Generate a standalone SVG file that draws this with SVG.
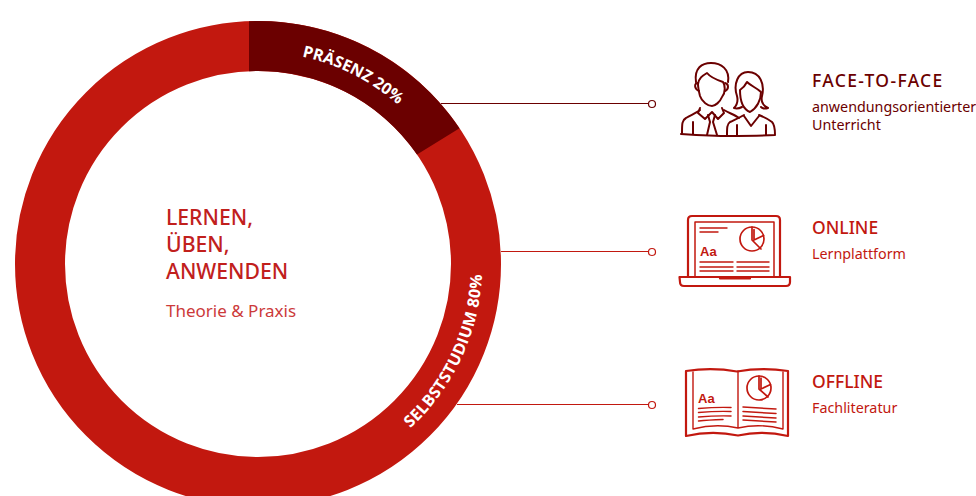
<svg xmlns="http://www.w3.org/2000/svg" width="976" height="496" viewBox="0 0 976 496">
<style>
text{font-family:"Noto Sans","Liberation Sans",sans-serif}
.h{font-size:17.500px;font-weight:500}
.s{font-size:14.300px}
.c{font-size:21.200px;font-weight:500;fill:#c1201c}
.ring{font-family:"Open Sans","Liberation Sans",sans-serif;font-size:16px;font-weight:700;fill:#fff}
.lead{fill:none;stroke-width:1.200}
.dot{fill:#fff;stroke-width:1.200}
.ic{fill:none;stroke-linecap:round;stroke-linejoin:round}
.dk{stroke:#6b0000;fill:none}
.rd{stroke:#c2180f}
.aa{font-family:"Liberation Sans",sans-serif;font-size:13px;font-weight:700;fill:#c2180f}
</style>
<defs>
<path id="p1" d="M302.100 56.600A212 212 0 0 1 441.600 158"/>
<path id="p2" d="M410.300 428.300A224 224 0 0 0 481.900 250"/>
</defs>
<g id="ring">
<circle cx="258" cy="264" r="218" fill="none" stroke="#c2180f" stroke-width="50"/>
<path d="M249 21.170A243 243 0 0 1 459.500 128.200L417 154.600A193 193 0 0 0 249 71.200Z" fill="#6b0000"/>
<text class="ring"><textPath href="#p1">PRÄSENZ 20%</textPath></text>
<text class="ring" letter-spacing="0.400"><textPath href="#p2">SELBSTSTUDIUM 80%</textPath></text>
</g>
<g id="center">
<text class="c" x="166" y="225">LERNEN,</text>
<text class="c" x="166" y="251.500">ÜBEN,</text>
<text class="c" x="166" y="278.500">ANWENDEN</text>
<text x="166" y="316.500" font-size="17" fill="#cc3a3a">Theorie &amp; Praxis</text>
</g>
<g id="connectors">
<path class="lead" stroke="#6b0000" d="M441 103.500H648"/>
<circle class="dot" stroke="#6b0000" cx="652" cy="104" r="3.500"/>
<path class="lead" stroke="#c2180f" d="M501 251.500H648"/>
<circle class="dot" stroke="#c2180f" cx="652" cy="252" r="3.500"/>
<path class="lead" stroke="#c2180f" d="M457 404.500H648"/>
<circle class="dot" stroke="#c2180f" cx="652" cy="405" r="3.500"/>
</g>
<g id="face-to-face">
<g class="ic dk" stroke-width="2">
<path d="M696 82C694 68 702 63 711 63C721 63 730 69 728 82"/>
<path d="M698 84C699 78 702 76 707 73C711 78 717 80 723 82C725 85 726 92 722 97C720 102 715 106 712 106C708 106 702 102 700 96C699 92 698 88 698 84Z"/>
<path d="M698 83C694 83 694 89 699 91M725 83C729 84 729 89 725 91"/>
<path d="M682 133C682 124 682 120 686 118C691 115 696 113 700 110"/>
<path d="M681 134C697 135 715 136 730 136"/>
<path d="M700 108L698 113L705 119L712 112L718 119L724 113L722 108"/>
<path d="M708 115L710 122L707 135M715 115L713 122L717 135"/>
<path d="M724 110C729 113 735 115 739 118"/>
<path d="M693 122V134"/>
<path d="M734 108C738 104 738 100 737 96C733 84 738 72 748 72C760 72 765 84 762 96C761 100 762 105 768 108C765 109 762 108 761 107M734 108C737 109 740 108 742 107"/>
<path d="M740 90C743 88 745 86 747 82C751 86 757 88 761 92C761 100 757 108 750 112C745 110 740 104 740 90Z"/>
<path d="M727 135C727 128 727 124 730 122C734 120 739 118 744 115"/>
<path d="M744 116L751 126L759 116"/>
<path d="M759 115C764 117 768 119 772 122C775 125 775 130 775 135C760 136 742 136 727 136"/>
<path d="M737 125V135M766 125V135"/>
</g>
<text class="h" x="812" y="87" fill="#6b0000" letter-spacing="1.350">FACE-TO-FACE</text>
<text class="s" x="812" y="112" fill="#6b0000">anwendungsorientierter</text>
<text class="s" x="812" y="130" fill="#6b0000">Unterricht</text>
</g>
<g id="online">
<g class="ic rd">
<path stroke-width="2.200" d="M688 277V220Q688 216 692 216H776Q780 216 780 220V277"/>
<path stroke-width="1.500" d="M695 277V222H774V277"/>
<path stroke-width="2.200" d="M679.500 277H790V282Q790 286 786 286H684Q680 286 680 282Z"/>
<path stroke-width="2.200" d="M720 278.500H750"/>
<path stroke-width="1.400" d="M700 228H727M700 232H718M700 262H733M700 267H733M700 271H733M737 262H769M737 267H769M737 271H769"/>
<g stroke-width="1.700"><circle cx="752" cy="239" r="12"/><path d="M752 227V240L761 249M754 229.500V240L763.500 235.500"/></g>
</g>
<text class="aa" x="700" y="256">Aa</text>
<text class="h" x="812" y="234" fill="#c2180f">ONLINE</text>
<text class="s" x="812" y="259" fill="#c2180f">Lernplattform</text>
</g>
<g id="offline">
<g class="ic rd">
<path stroke-width="2.200" d="M686 371Q712 367 737 371.500Q762 367 788 371V436Q762 430 738 435.500Q712 430 686 436Z"/>
<path stroke-width="1.400" d="M693 372V429Q716 423 738 428V371M783 372V429Q760 423 738 428"/>
<path stroke-width="1.500" d="M698.500 408.500Q716 407 731 407.500M698.500 412.500Q716 411 731 411.500M698.500 417Q716 415.500 731 416M698.500 421Q708 420 723 419.500M743 407Q760 408 776 409M743 411.500Q760 412.500 776 413.500M743 416Q760 417 776 418M743 420Q760 421 776 422"/>
<g stroke-width="1.700"><circle cx="759" cy="388" r="12"/><path d="M759 376V389L768 397M761 378V389L770.500 384.500"/></g>
</g>
<text class="aa" x="698" y="403">Aa</text>
<text class="h" x="812" y="388" fill="#c2180f">OFFLINE</text>
<text class="s" x="812" y="413" fill="#c2180f">Fachliteratur</text>
</g>
</svg>
